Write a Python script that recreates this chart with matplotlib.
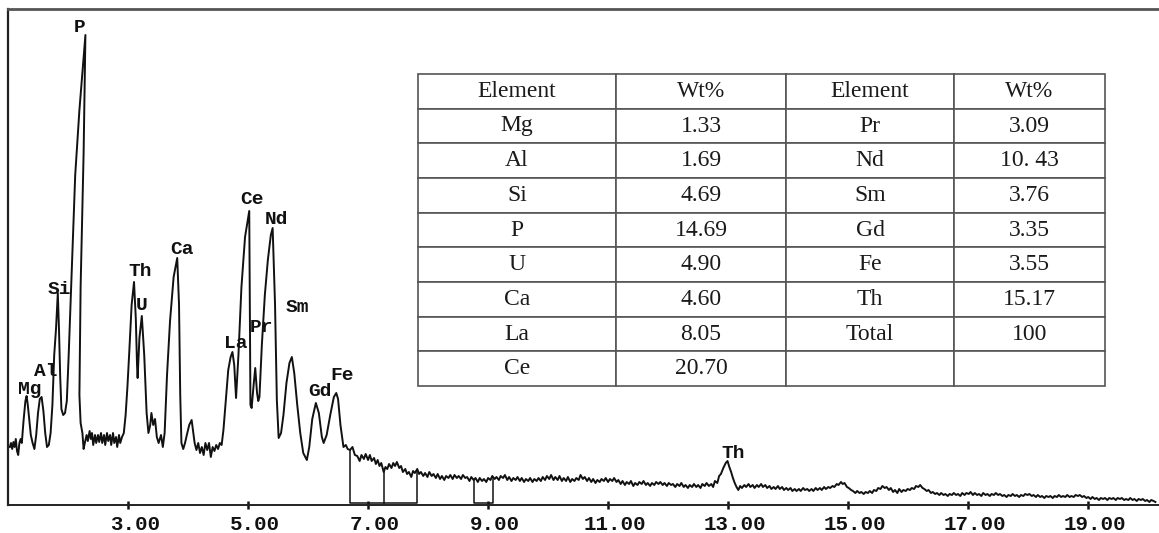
import matplotlib
matplotlib.use("Agg")
import matplotlib.pyplot as plt
from matplotlib.transforms import ScaledTranslation

# ---------------- EDS spectrum (energy in keV, counts in arbitrary units) ----------------
energy_lo = [
    1.03, 1.05, 1.07, 1.09, 1.11, 1.13, 1.15, 1.17, 1.19, 1.21, 1.23, 1.26, 1.29, 1.31, 1.33,
    1.35, 1.38, 1.41, 1.44, 1.47, 1.50, 1.53, 1.56, 1.59, 1.62, 1.65, 1.68, 1.71, 1.74, 1.77,
    1.80, 1.83, 1.85, 1.87, 1.89, 1.92, 1.95, 1.98, 2.01, 2.06, 2.12, 2.19, 2.29, 2.26, 2.21,
    2.19, 2.21, 2.24, 2.26, 2.28, 2.31, 2.33, 2.36, 2.38, 2.40, 2.42, 2.45, 2.47, 2.50, 2.52,
    2.55, 2.57, 2.60, 2.62, 2.65, 2.67, 2.70, 2.72, 2.75, 2.77, 2.80, 2.82, 2.85, 2.87, 2.90,
    2.93, 2.96, 2.99, 3.02, 3.06, 3.10, 3.13, 3.15, 3.16, 3.19, 3.23, 3.27, 3.31, 3.34, 3.37,
    3.39, 3.42, 3.45, 3.48, 3.51, 3.55, 3.58, 3.61, 3.65, 3.70, 3.76, 3.82, 3.85, 3.87, 3.89,
    3.92, 3.95, 3.98, 4.02, 4.06, 4.08, 4.11, 4.14, 4.17, 4.20, 4.23, 4.26, 4.29, 4.32, 4.35,
    4.38, 4.41, 4.44, 4.47, 4.50, 4.53, 4.56, 4.59, 4.63, 4.67, 4.71, 4.74, 4.77, 4.80, 4.84,
    4.89, 4.95, 5.02, 5.03, 5.04, 5.06, 5.09, 5.12, 5.15, 5.17, 5.19, 5.23, 5.28, 5.33, 5.38,
    5.41, 5.45, 5.48, 5.51, 5.55, 5.59, 5.64, 5.69, 5.73, 5.77, 5.82, 5.87, 5.92, 5.98, 6.02,
    6.07, 6.13, 6.18, 6.23, 6.26, 6.31, 6.37, 6.43, 6.47, 6.50, 6.54, 6.59, 6.63, 6.66,
]
counts_lo = [
    58, 62, 56, 63, 58, 66, 54, 50, 62, 66, 62, 85, 104, 109, 100,
    88, 70, 62, 56, 70, 92, 106, 108, 94, 72, 58, 60, 72, 100, 150,
    176, 212, 175, 128, 96, 90, 92, 104, 148, 232, 330, 395, 470, 352, 218,
    110, 82, 72, 56, 62, 70, 64, 74, 66, 72, 60, 70, 62, 70, 63,
    72, 62, 70, 60, 72, 64, 70, 60, 72, 62, 68, 58, 70, 62, 68,
    72, 90, 118, 152, 200, 223, 186, 140, 127, 167, 189, 150, 92, 72, 80,
    92, 80, 86, 68, 62, 70, 58, 72, 130, 184, 228, 247, 200, 110, 62,
    56, 62, 70, 80, 85, 76, 62, 55, 62, 52, 58, 50, 62, 55, 62,
    48, 58, 54, 60, 56, 62, 60, 75, 105, 135, 148, 153, 140, 107, 150,
    218, 268, 294, 200, 100, 97, 118, 137, 112, 104, 108, 160, 210, 245, 270,
    277, 200, 105, 67, 72, 90, 122, 142, 148, 132, 100, 72, 52, 45, 58,
    86, 102, 92, 68, 62, 70, 90, 108, 112, 106, 80, 58, 60, 56,
]

energy_hi = [
    6.70, 6.74, 6.78, 6.82, 6.86, 6.89, 6.93, 6.96, 7.00, 7.03, 7.06, 7.10, 7.13, 7.16, 7.19,
    7.22, 7.26, 7.29, 7.32, 7.35, 7.39, 7.42, 7.45, 7.48, 7.52, 7.55, 7.58, 7.62, 7.65, 7.68,
    7.72, 7.75, 7.78, 7.82, 7.85, 7.88, 7.92, 7.95, 7.99, 8.02, 8.06, 8.09, 8.13, 8.16, 8.20,
    8.23, 8.27, 8.30, 8.34, 8.37, 8.41, 8.44, 8.48, 8.51, 8.55, 8.58, 8.62, 8.65, 8.69, 8.72,
    8.76, 8.79, 8.83, 8.86, 8.90, 8.93, 8.97, 9.00, 9.04, 9.07, 9.11, 9.14, 9.18, 9.21, 9.25,
    9.28, 9.32, 9.35, 9.39, 9.42, 9.46, 9.49, 9.53, 9.56, 9.60, 9.63, 9.67, 9.70, 9.74, 9.77,
    9.81, 9.84, 9.88, 9.91, 9.95, 9.98, 10.02, 10.05, 10.09, 10.12, 10.16, 10.19, 10.23, 10.26, 10.30,
    10.33, 10.37, 10.40, 10.44, 10.47, 10.51, 10.54, 10.58, 10.61, 10.65, 10.68, 10.72, 10.75, 10.79, 10.82,
    10.86, 10.89, 10.93, 10.96, 11.00, 11.03, 11.07, 11.10, 11.14, 11.17, 11.21, 11.24, 11.28, 11.31, 11.35,
    11.38, 11.42, 11.45, 11.49, 11.52, 11.56, 11.59, 11.63, 11.66, 11.70, 11.73, 11.77, 11.80, 11.84, 11.87,
    11.91, 11.94, 11.98, 12.01, 12.05, 12.08, 12.12, 12.15, 12.19, 12.22, 12.26, 12.29, 12.33, 12.36, 12.40,
    12.43, 12.47, 12.50, 12.54, 12.57, 12.61, 12.64, 12.68, 12.72, 12.75, 12.78, 12.82, 12.85, 12.88, 12.92,
    12.96, 12.99, 13.02, 13.05, 13.08, 13.11, 13.14, 13.17, 13.20, 13.23, 13.27, 13.30, 13.34, 13.37, 13.41,
    13.44, 13.48, 13.51, 13.55, 13.58, 13.62, 13.65, 13.69, 13.72, 13.76, 13.79, 13.83, 13.86, 13.90, 13.93,
    13.97, 14.00, 14.04, 14.07, 14.11, 14.14, 14.18, 14.21, 14.25, 14.28, 14.32, 14.35, 14.39, 14.42, 14.46,
    14.49, 14.53, 14.56, 14.60, 14.63, 14.67, 14.70, 14.74, 14.77, 14.81, 14.84, 14.88, 14.91, 14.94, 14.98,
    15.01, 15.05, 15.08, 15.12, 15.15, 15.19, 15.22, 15.26, 15.29, 15.33, 15.36, 15.40, 15.43, 15.47, 15.50,
    15.54, 15.57, 15.61, 15.64, 15.68, 15.71, 15.75, 15.78, 15.82, 15.85, 15.89, 15.92, 15.96, 15.99, 16.03,
    16.06, 16.10, 16.13, 16.17, 16.20, 16.24, 16.27, 16.31, 16.34, 16.38, 16.41, 16.45, 16.48, 16.52, 16.55,
    16.59, 16.62, 16.66, 16.69, 16.73, 16.76, 16.80, 16.83, 16.87, 16.90, 16.94, 16.97, 17.01, 17.04, 17.08,
    17.11, 17.15, 17.18, 17.22, 17.25, 17.29, 17.32, 17.36, 17.39, 17.43, 17.46, 17.50, 17.53, 17.57, 17.60,
    17.64, 17.67, 17.71, 17.74, 17.78, 17.81, 17.85, 17.88, 17.92, 17.95, 17.99, 18.02, 18.06, 18.09, 18.13,
    18.16, 18.20, 18.23, 18.27, 18.30, 18.34, 18.37, 18.41, 18.44, 18.48, 18.51, 18.55, 18.58, 18.62, 18.65,
    18.69, 18.72, 18.76, 18.79, 18.83, 18.86, 18.90, 18.93, 18.97, 19.00, 19.04, 19.07, 19.11, 19.14, 19.18,
    19.21, 19.25, 19.28, 19.32, 19.35, 19.39, 19.42, 19.46, 19.49, 19.53, 19.56, 19.60, 19.63, 19.67, 19.70,
    19.74, 19.77, 19.81, 19.84, 19.88, 19.91, 19.95, 19.98, 20.02, 20.05, 20.09, 20.12,
]
counts_hi = [
    55, 58, 50, 49, 44, 50, 46, 51, 45, 50, 44, 47, 41, 45, 39,
    42, 33, 38, 36, 41, 37, 42, 39, 43, 37, 39, 33, 36, 31, 33,
    28, 34, 32, 36, 31, 33, 29, 32, 28, 33, 29, 31, 27, 31, 26,
    29, 25, 29, 27, 30, 26, 30, 27, 29, 26, 30, 27, 28, 24, 28,
    25, 27, 23, 27, 24, 26, 23, 27, 25, 29, 26, 28, 25, 29, 27,
    30, 25, 28, 24, 27, 25, 28, 24, 27, 23, 26, 24, 27, 23, 26,
    24, 27, 24, 28, 25, 29, 26, 30, 25, 28, 25, 29, 24, 27, 24,
    28, 23, 26, 24, 27, 25, 30, 26, 28, 24, 27, 23, 26, 22, 25,
    23, 26, 24, 27, 23, 26, 24, 27, 23, 25, 21, 24, 20, 23, 21,
    24, 19, 22, 20, 23, 21, 24, 20, 22, 19, 22, 20, 23, 21, 23,
    20, 22, 19, 22, 20, 21, 18, 21, 19, 22, 18, 20, 17, 20, 18,
    21, 18, 20, 17, 21, 19, 22, 19, 21, 18, 24, 22, 29, 31, 37,
    42, 44, 38, 33, 27, 22, 18, 15, 19, 17, 20, 18, 21, 18, 20,
    17, 20, 18, 21, 18, 20, 17, 19, 16, 18, 16, 19, 16, 18, 15,
    17, 15, 17, 14, 16, 14, 16, 14, 17, 15, 16, 14, 16, 14, 17,
    15, 17, 15, 18, 16, 18, 17, 19, 18, 21, 20, 23, 21, 22, 18,
    17, 15, 14, 12, 14, 12, 13, 11, 13, 12, 14, 12, 15, 14, 17,
    16, 19, 17, 18, 15, 17, 13, 15, 12, 16, 13, 15, 14, 16, 15,
    17, 16, 19, 18, 20, 17, 16, 14, 15, 12, 13, 11, 12, 10, 12,
    10, 11, 9, 11, 10, 12, 10, 11, 9, 12, 10, 12, 11, 13, 10,
    12, 10, 11, 9, 12, 10, 11, 9, 11, 10, 12, 10, 11, 9, 10,
    8, 10, 9, 11, 9, 10, 8, 10, 9, 11, 10, 11, 9, 10, 8,
    10, 8, 9, 7, 9, 8, 9, 7, 9, 8, 10, 8, 9, 8, 10,
    8, 9, 8, 10, 9, 10, 8, 9, 7, 8, 6, 8, 6, 7, 5,
    7, 6, 7, 5, 7, 6, 7, 5, 7, 6, 7, 5, 6, 5, 7,
    5, 6, 4, 6, 5, 6, 4, 5, 3, 5, 4, 3,
]

# Peak identifications: label, energy of label centre (keV), label height (counts)
peak_labels = ["P", "Si", "Al", "Mg", "Th", "U", "Ca", "La", "Ce", "Pr", "Nd", "Sm", "Gd", "Fe", "Th"]
peak_label_energy = [2.20, 1.85, 1.63, 1.37, 3.20, 3.22, 3.90, 4.80, 5.07, 5.23, 5.47, 5.83, 6.20, 6.57, 13.08]
peak_label_counts = [478, 216, 134, 116, 233, 199, 256, 161, 305, 178, 286, 197, 113, 130, 52]

# Integration windows marked under the spectrum: (start, end) energies and curve height at each edge
roi_start = [6.70, 8.76]
roi_end = [7.81, 9.09]
roi_start_top = [55, 25]
roi_end_top = [35, 26]
roi_divider = [7.26]
roi_divider_top = [35]
roi_floor = 2.5

# Quantification table
table_header = ["Element", "Wt%", "Element", "Wt%"]
elements_left = ["Mg", "Al", "Si", "P", "U", "Ca", "La", "Ce"]
wt_left = ["1.33", "1.69", "4.69", "14.69", "4.90", "4.60", "8.05", "20.70"]
elements_right = ["Pr", "Nd", "Sm", "Gd", "Fe", "Th", "Total", ""]
wt_right = ["3.09", "10. 43", "3.76", "3.35", "3.55", "15.17", "100", ""]

x_ticks = [3, 5, 7, 9, 11, 13, 15, 17, 19]

# ---------------- figure ----------------
W, H, DPI = 1159, 533, 100
fig = plt.figure(figsize=(W / DPI, H / DPI), dpi=DPI)
ax = fig.add_axes([8 / W, 28 / H, 1151 / W, 496 / H])

energy = energy_lo + energy_hi
counts = counts_lo + counts_hi
ax.plot(energy, counts, color="#111111", lw=1.4, solid_joinstyle="round")

# integration windows
for e0, e1, t0, t1 in zip(roi_start, roi_end, roi_start_top, roi_end_top):
    ax.plot([e0, e0, e1, e1], [t0, roi_floor, roi_floor, t1], color="#111111", lw=1.1)
for ed, td in zip(roi_divider, roi_divider_top):
    ax.plot([ed, ed], [roi_floor, td], color="#111111", lw=1.1)

label_font = dict(family=["Liberation Mono", "DejaVu Sans Mono"], weight="bold", size=14)
for lab, e, c in zip(peak_labels, peak_label_energy, peak_label_counts):
    ax.text(e, c, lab, ha="center", va="center", color="#111111", **label_font)

ax.set_xlim(1.0, 20.18)
ax.set_ylim(0, 496)

ax.spines["right"].set_visible(False)
ax.spines["left"].set_linewidth(1.6)
ax.spines["bottom"].set_linewidth(1.4)
ax.spines["top"].set_linewidth(2.0)
ax.spines["top"].set_color("#555555")
ax.spines["left"].set_color("#222222")
ax.spines["bottom"].set_color("#222222")

ax.set_yticks([])
ax.set_xticks(x_ticks)
ax.set_xticklabels([f"{t:.2f}" for t in x_ticks],
                   fontfamily=["Liberation Mono", "DejaVu Sans Mono"],
                   fontweight="bold", fontsize=15)
ax.tick_params(axis="x", direction="inout", length=6, width=1.8, pad=4, colors="#111111")
shift = ScaledTranslation(7 / DPI, 0, fig.dpi_scale_trans)
for lbl in ax.get_xticklabels():
    lbl.set_transform(lbl.get_transform() + shift)

# table
rows = [table_header] + [[a, b, c, d] for a, b, c, d in zip(elements_left, wt_left, elements_right, wt_right)]
col_px = [198, 170, 168, 151]
tot = sum(col_px)
tbl = ax.table(cellText=rows, cellLoc="center",
               colWidths=[c / tot for c in col_px],
               bbox=[(418 - 8) / 1151, (505 - 386) / 496, (1105 - 418) / 1151, (386 - 74) / 496])
tbl.auto_set_font_size(False)
for (r, c), cell in tbl.get_celld().items():
    cell.set_edgecolor("#555555")
    cell.set_linewidth(1.2)
    cell.set_facecolor("white")
    txt = cell.get_text()
    txt.set_fontfamily(["Liberation Serif", "DejaVu Serif"])
    txt.set_fontsize(17)
    txt.set_color("#1a1a1a")

fig.savefig("out.png", dpi=DPI, facecolor="white")
